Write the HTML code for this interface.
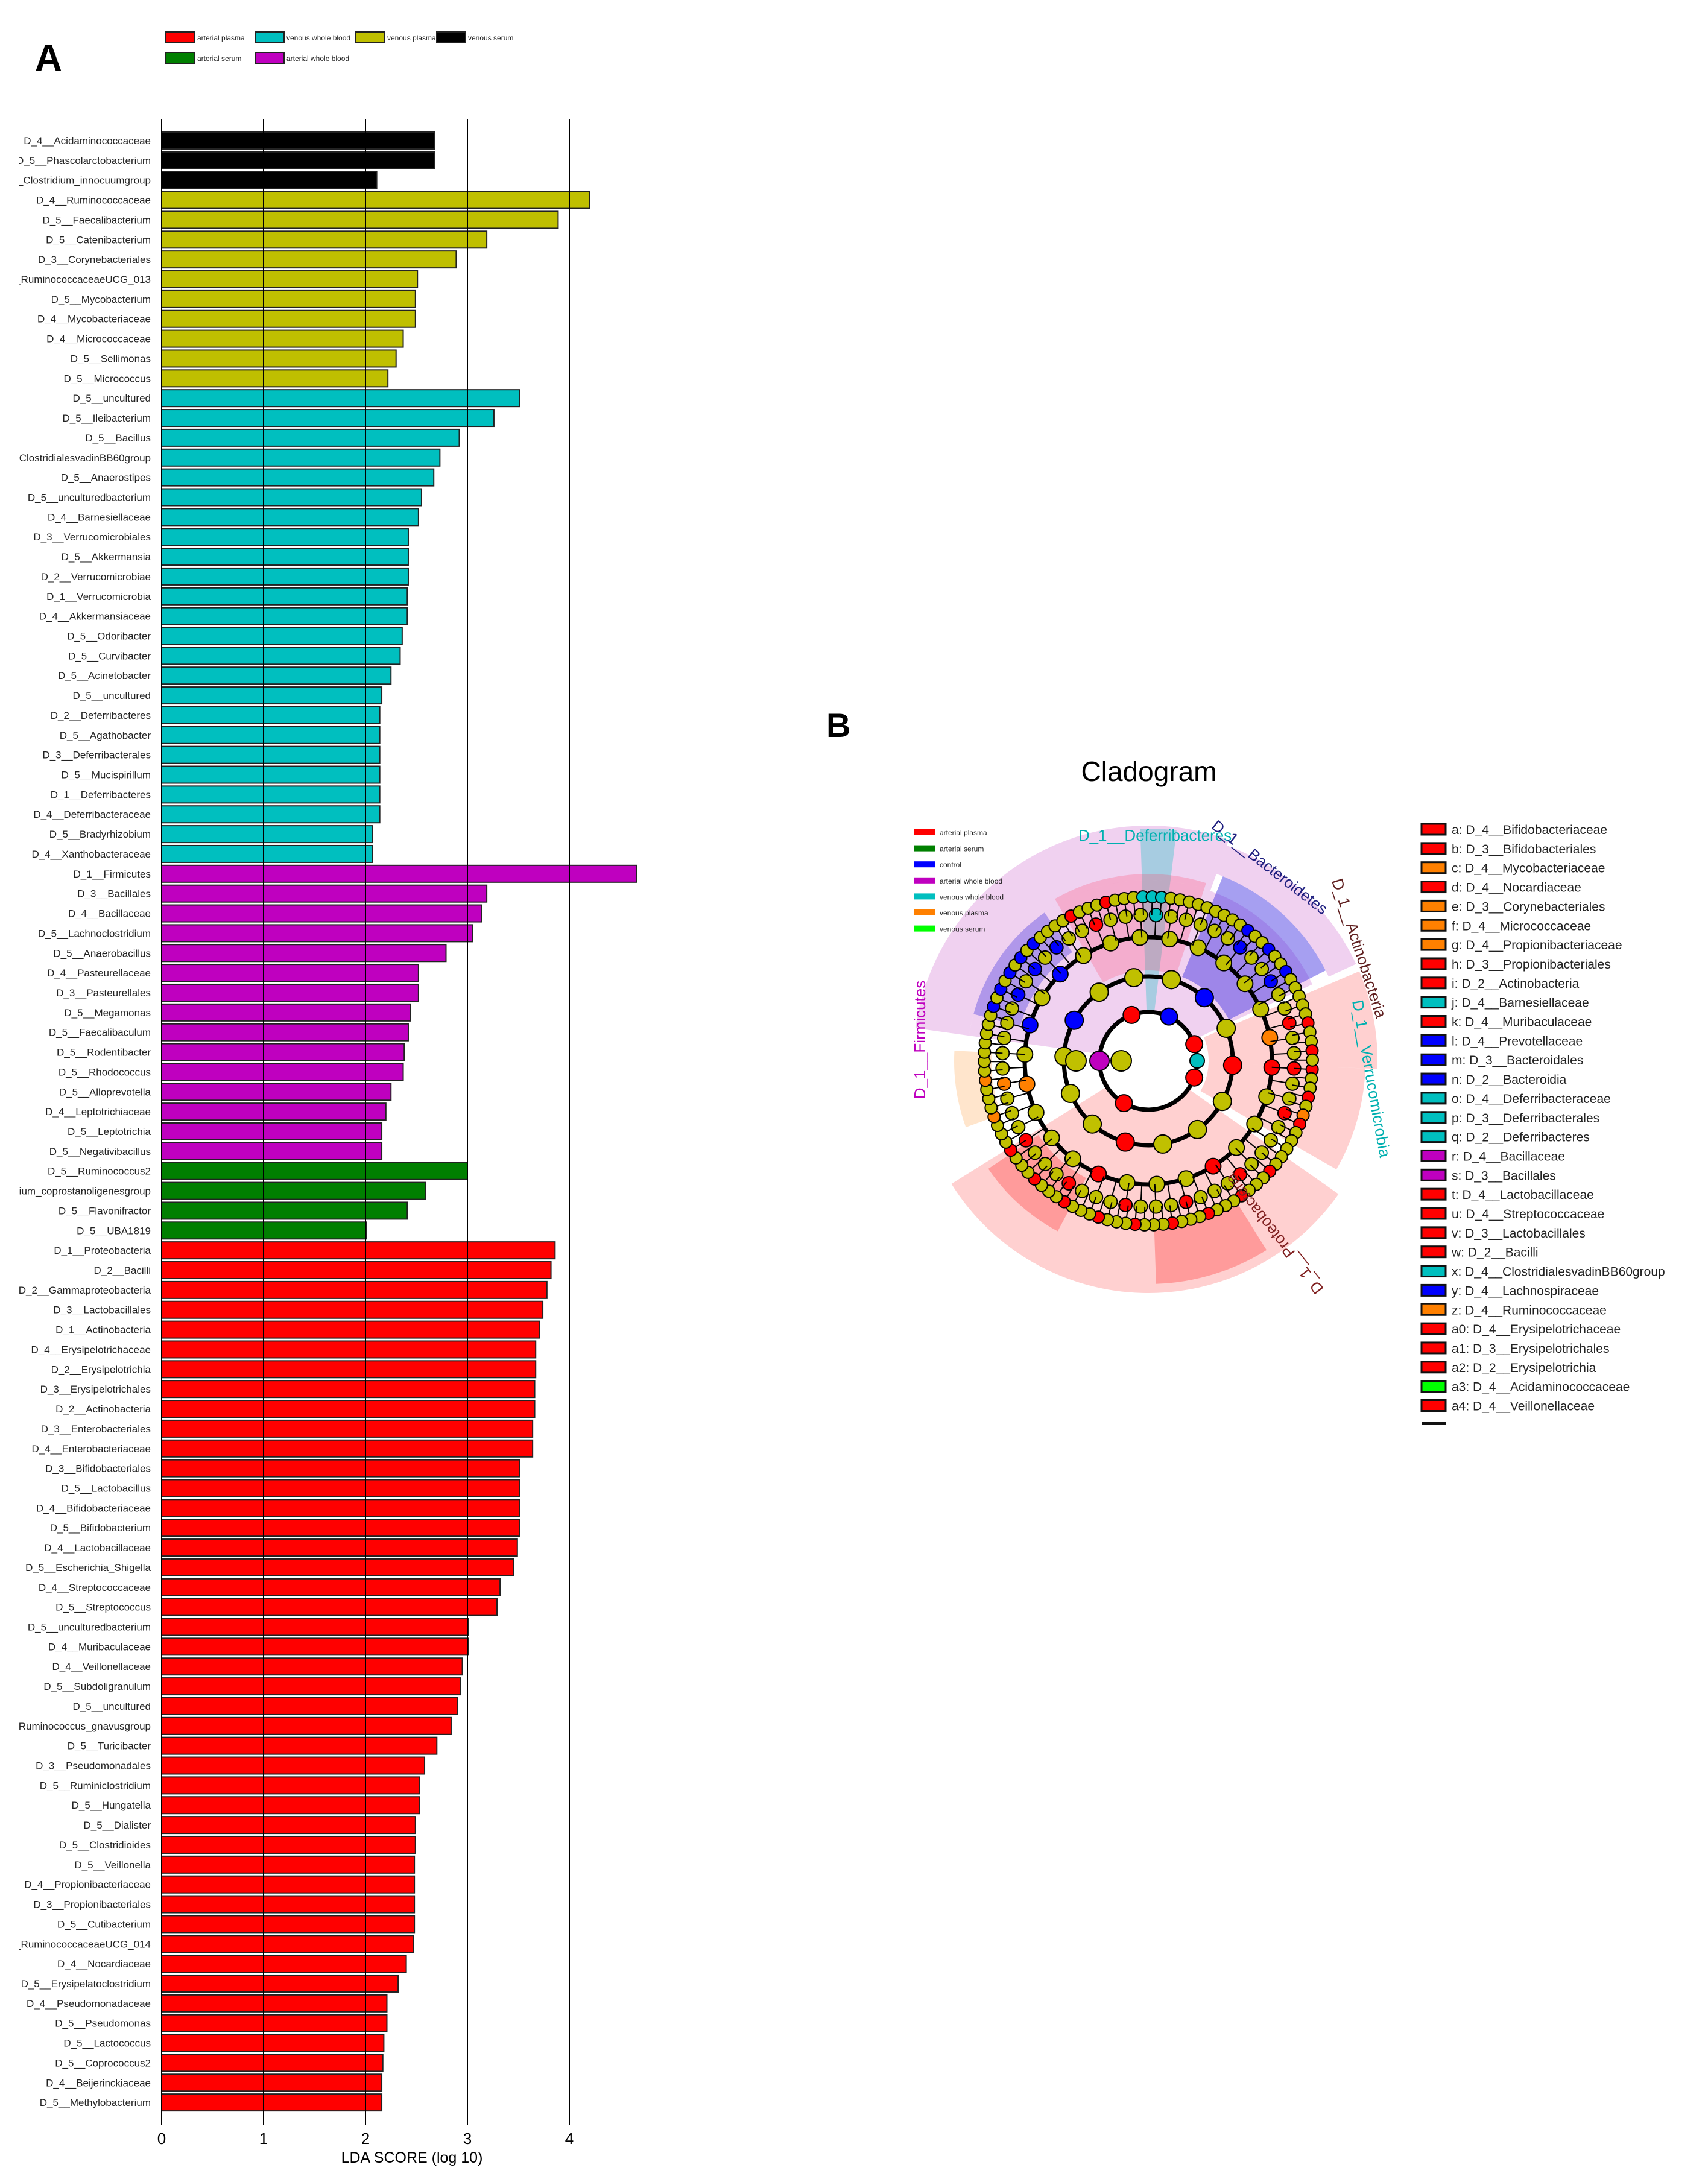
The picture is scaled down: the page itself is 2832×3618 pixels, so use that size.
<!DOCTYPE html>
<html><head><meta charset="utf-8"><style>
html,body{margin:0;padding:0;background:#fff}
svg{display:block}
text{font-family:"Liberation Sans",sans-serif}
</style></head><body>
<svg id="root" width="2832" height="3618" viewBox="0 0 2832 3618" xmlns="http://www.w3.org/2000/svg">
<text x="58" y="117" font-size="62" font-weight="bold">A</text>
<g id="legendA"></g>
<defs><clipPath id="lblclip"><rect x="32" y="0" width="240" height="3618"/></clipPath></defs>
<g id="labels" clip-path="url(#lblclip)"></g>
<g id="bars"></g>
<g id="grid"></g>
<g id="ticks"></g>
<text x="683" y="3586" font-size="25" text-anchor="middle">LDA SCORE (log 10)</text>

<text x="1370" y="1222" font-size="56" font-weight="bold">B</text>
<text x="1905" y="1295" font-size="46" text-anchor="middle">Cladogram</text>
<g id="clado"></g>
<g id="cladoLegend"></g>
<g id="taxLegend"></g>
</svg>
<script>
const NS="http://www.w3.org/2000/svg";
const categories=["D_4__Acidaminococcaceae","D_5__Phascolarctobacterium","D_5__Clostridium_innocuumgroup","D_4__Ruminococcaceae","D_5__Faecalibacterium","D_5__Catenibacterium","D_3__Corynebacteriales","D_5__RuminococcaceaeUCG_013","D_5__Mycobacterium","D_4__Mycobacteriaceae","D_4__Micrococcaceae","D_5__Sellimonas","D_5__Micrococcus","D_5__uncultured","D_5__Ileibacterium","D_5__Bacillus","D_4__ClostridialesvadinBB60group","D_5__Anaerostipes","D_5__unculturedbacterium","D_4__Barnesiellaceae","D_3__Verrucomicrobiales","D_5__Akkermansia","D_2__Verrucomicrobiae","D_1__Verrucomicrobia","D_4__Akkermansiaceae","D_5__Odoribacter","D_5__Curvibacter","D_5__Acinetobacter","D_5__uncultured","D_2__Deferribacteres","D_5__Agathobacter","D_3__Deferribacterales","D_5__Mucispirillum","D_1__Deferribacteres","D_4__Deferribacteraceae","D_5__Bradyrhizobium","D_4__Xanthobacteraceae","D_1__Firmicutes","D_3__Bacillales","D_4__Bacillaceae","D_5__Lachnoclostridium","D_5__Anaerobacillus","D_4__Pasteurellaceae","D_3__Pasteurellales","D_5__Megamonas","D_5__Faecalibaculum","D_5__Rodentibacter","D_5__Rhodococcus","D_5__Alloprevotella","D_4__Leptotrichiaceae","D_5__Leptotrichia","D_5__Negativibacillus","D_5__Ruminococcus2","D_5__Eubacterium_coprostanoligenesgroup","D_5__Flavonifractor","D_5__UBA1819","D_1__Proteobacteria","D_2__Bacilli","D_2__Gammaproteobacteria","D_3__Lactobacillales","D_1__Actinobacteria","D_4__Erysipelotrichaceae","D_2__Erysipelotrichia","D_3__Erysipelotrichales","D_2__Actinobacteria","D_3__Enterobacteriales","D_4__Enterobacteriaceae","D_3__Bifidobacteriales","D_5__Lactobacillus","D_4__Bifidobacteriaceae","D_5__Bifidobacterium","D_4__Lactobacillaceae","D_5__Escherichia_Shigella","D_4__Streptococcaceae","D_5__Streptococcus","D_5__unculturedbacterium","D_4__Muribaculaceae","D_4__Veillonellaceae","D_5__Subdoligranulum","D_5__uncultured","D_5__Ruminococcus_gnavusgroup","D_5__Turicibacter","D_3__Pseudomonadales","D_5__Ruminiclostridium","D_5__Hungatella","D_5__Dialister","D_5__Clostridioides","D_5__Veillonella","D_4__Propionibacteriaceae","D_3__Propionibacteriales","D_5__Cutibacterium","D_5__RuminococcaceaeUCG_014","D_4__Nocardiaceae","D_5__Erysipelatoclostridium","D_4__Pseudomonadaceae","D_5__Pseudomonas","D_5__Lactococcus","D_5__Coprococcus2","D_4__Beijerinckiaceae","D_5__Methylobacterium"];
const ldaValues=[2.68,2.68,2.11,4.2,3.89,3.19,2.89,2.51,2.49,2.49,2.37,2.3,2.22,3.51,3.26,2.92,2.73,2.67,2.55,2.52,2.42,2.42,2.42,2.41,2.41,2.36,2.34,2.25,2.16,2.14,2.14,2.14,2.14,2.14,2.14,2.07,2.07,4.66,3.19,3.14,3.05,2.79,2.52,2.52,2.44,2.42,2.38,2.37,2.25,2.2,2.16,2.16,3.0,2.59,2.41,2.01,3.86,3.82,3.78,3.74,3.71,3.67,3.67,3.66,3.66,3.64,3.64,3.51,3.51,3.51,3.51,3.49,3.45,3.32,3.29,3.01,3.01,2.95,2.93,2.9,2.84,2.7,2.58,2.53,2.53,2.49,2.49,2.48,2.48,2.48,2.48,2.47,2.4,2.32,2.21,2.21,2.18,2.17,2.16,2.16];
const groups=["venous serum","venous serum","venous serum"].concat(Array(10).fill("venous plasma"),Array(24).fill("venous whole blood"),Array(15).fill("arterial whole blood"),Array(4).fill("arterial serum"),Array(44).fill("arterial plasma"));
const groupNames=["arterial plasma","venous whole blood","venous plasma","venous serum","arterial serum","arterial whole blood"];
const groupColors=["#ff0000","#00bfbf","#bfbf00","#000000","#007f00","#bf00bf"];
const xTicks=[0,1,2,3,4];

const X0=268,XU=169,Y0=233,DY=32.86,BH=28;
const xs=v=>X0+XU*v, ys=i=>Y0+DY*i;
function mk(tag,attrs,parent){const e=document.createElementNS(NS,tag);for(const k in attrs)e.setAttribute(k,attrs[k]);parent.appendChild(e);return e;}
const gBars=document.getElementById('bars'),gLab=document.getElementById('labels'),gGrid=document.getElementById('grid'),gTicks=document.getElementById('ticks'),gLeg=document.getElementById('legendA');
categories.forEach((c,i)=>{
  const col=groupColors[groupNames.indexOf(groups[i])];
  const r=mk('rect',{x:xs(0),y:ys(i)-BH/2,width:xs(ldaValues[i])-xs(0),height:BH,fill:col,stroke:'#222','stroke-width':2},gBars);
  
  
  const t=mk('text',{x:250,y:ys(i)+6,'font-size':17,'text-anchor':'end',fill:'#222'},gLab);
  t.textContent=c;
  
  
});
xTicks.forEach(v=>{
  const l=mk('line',{x1:xs(v),x2:xs(v),y1:198,y2:3523,stroke:'#000','stroke-width':2},gGrid);
  
  
  const t=mk('text',{x:xs(v),y:3555,'font-size':26,'text-anchor':'middle'},gTicks);
  t.textContent=v;
  
  
});
const legPos=[[275,62],[423,62],[590,62],[724,62],[275,96],[423,96]];
groupNames.forEach((n,i)=>{
  const [x,y]=legPos[i];
  const r=mk('rect',{x:x,y:y-9,width:48,height:18,fill:groupColors[i],stroke:'#222','stroke-width':2},gLeg);
  
  
  const t=mk('text',{x:x+52,y:y+5,'font-size':12,fill:'#222'},gLeg);
  t.textContent=n;
  
  
});

/* cladogram */
const CX=1904,CY=1759,cl=document.getElementById('clado');
const R=d=>d*Math.PI/180;
function sector(a0,a1,r0,r1,fill,op){
  const p=(a,r)=>[CX+r*Math.cos(R(a)),CY+r*Math.sin(R(a))];
  const large=(a1-a0)>180?1:0;
  const [x1,y1]=p(a0,r1),[x2,y2]=p(a1,r1),[x3,y3]=p(a1,r0),[x4,y4]=p(a0,r0);
  const e=mk('path',{d:`M${x1},${y1}A${r1},${r1} 0 ${large} 1 ${x2},${y2}L${x3},${y3}A${r0},${r0} 0 ${large} 0 ${x4},${y4}Z`,fill:fill,'fill-opacity':op},cl);
  
  
}
sector(188,290,300,390,'#cc66cc',0.3);
sector(188,335,81,300,'#cc66cc',0.3);
sector(268,277,81,385,'#00bfbf',0.3);
sector(292,333,150,330,'#3a2be0',0.45);
sector(290,335,330,380,'#cc66cc',0.3);
sector(195,235,220,300,'#3a2be0',0.35);
sector(240,288,150,310,'#ff4466',0.25);
sector(337,362,100,380,'#ff4444',0.25);
sector(2,30,100,360,'#ff4444',0.25);
sector(35,148,81,385,'#ff4444',0.25);
sector(58,88,270,370,'#ff2222',0.3);
sector(118,146,220,320,'#ff2222',0.3);
sector(160,183,260,322,'#ff9933',0.25);
[81,140,205].forEach(r=>mk('circle',{cx:CX,cy:CY,r:r,fill:'none',stroke:'#000','stroke-width':7},cl));
function colAt(a,i){
  a=((a%360)+360)%360;
  if(a>195&&a<232&&i%2===0) return '#0000ff';
  if(a>298&&a<330&&i%3===0) return '#0000ff';
  if(a>268&&a<277) return '#00c0c0';
  if(a>340||a<28){return i%3===0?'#ff0000':(i%5===0?'#ff8000':'#c0c000');}
  if(a>=0&&a<10&&i%2) return '#00c0c0';
  if(a>35&&a<150&&i%4===0) return '#ff0000';
  if(a>240&&a<265&&i%4===1) return '#ff0000';
  if(a>160&&a<183&&i%4===0) return '#ff8000';
  return '#c0c000';
}
const rings=[[140,14,15],[205,26,13],[242,60,11],[272,110,10]];
rings.forEach(([r,n,s],k)=>{
  for(let i=0;i<n;i++){
    const a=i*360/n+3;
    const x=CX+r*Math.cos(R(a)),y=CY+r*Math.sin(R(a));
    if(k>=2){const rr=k===2?205:242;mk('line',{x1:CX+rr*Math.cos(R(a)),y1:CY+rr*Math.sin(R(a)),x2:x,y2:y,stroke:'#000','stroke-width':2},cl);}
    const c=mk('circle',{cx:x,cy:y,r:s,fill:colAt(a,i),stroke:'#000','stroke-width':2},cl);
    
    
  }
});
[[180,81,'#bf00bf',16],[250,81,'#ff0000',14],[340,81,'#ff0000',14],[0,81,'#00c0c0',12],[20,81,'#ff0000',14],[120,81,'#ff0000',14],[295,81,'#0000ff',14]].forEach(([a,r,c,s])=>{
  mk('circle',{cx:CX+r*Math.cos(R(a)),cy:CY+r*Math.sin(R(a)),r:s,fill:c,stroke:'#000','stroke-width':2},cl);
});
mk('circle',{cx:CX-120,cy:CY,r:17,fill:'#c0c000',stroke:'#000','stroke-width':2},cl);
mk('circle',{cx:CX-45,cy:CY,r:17,fill:'#c0c000',stroke:'#000','stroke-width':2},cl);
function ltxt(s,x,y,rot,col){const t=mk('text',{x:x,y:y,'font-size':26,fill:col,'text-anchor':'middle',transform:`rotate(${rot} ${x} ${y})`},cl);t.textContent=s;}
ltxt('D_1__Firmicutes',1534,1724,-90,'#bf00bf');
ltxt('D_1__Deferribacteres',1915,1394,0,'#00b0b0');
ltxt('D_1__Bacteroidetes',2100,1445,38,'#202080');
ltxt('D_1__Actinobacteria',2245,1575,72,'#602020');
ltxt('D_1__Verrucomicrobia',2265,1790,80,'#00b0b0');
ltxt('D_1__Proteobacteria',2120,2040,-128,'#802020');

const clNames=["arterial plasma","arterial serum","control","arterial whole blood","venous whole blood","venous plasma","venous serum"];
const clCols=["#ff0000","#008000","#0000ff","#bf00bf","#00bfbf","#ff8000","#00ff00"];
const cg=document.getElementById('cladoLegend');
clNames.forEach((n,i)=>{
  const y=1380+i*26.6;
  mk('rect',{x:1516,y:y-5,width:34,height:10,fill:clCols[i]},cg);
  const t=mk('text',{x:1558,y:y+5,'font-size':12,fill:'#222'},cg);
  t.textContent=n;
  
  
});
const taxa=["a: D_4__Bifidobacteriaceae","b: D_3__Bifidobacteriales","c: D_4__Mycobacteriaceae","d: D_4__Nocardiaceae","e: D_3__Corynebacteriales","f: D_4__Micrococcaceae","g: D_4__Propionibacteriaceae","h: D_3__Propionibacteriales","i: D_2__Actinobacteria","j: D_4__Barnesiellaceae","k: D_4__Muribaculaceae","l: D_4__Prevotellaceae","m: D_3__Bacteroidales","n: D_2__Bacteroidia","o: D_4__Deferribacteraceae","p: D_3__Deferribacterales","q: D_2__Deferribacteres","r: D_4__Bacillaceae","s: D_3__Bacillales","t: D_4__Lactobacillaceae","u: D_4__Streptococcaceae","v: D_3__Lactobacillales","w: D_2__Bacilli","x: D_4__ClostridialesvadinBB60group","y: D_4__Lachnospiraceae","z: D_4__Ruminococcaceae","a0: D_4__Erysipelotrichaceae","a1: D_3__Erysipelotrichales","a2: D_2__Erysipelotrichia","a3: D_4__Acidaminococcaceae","a4: D_4__Veillonellaceae"];
const taxCols="rrorooorrcrbbbcccmmrrrrcborrrgr";
const cmap={r:'#ff0000',o:'#ff8000',c:'#00bfbf',b:'#0000ff',m:'#bf00bf',g:'#00ff00'};
const tg=document.getElementById('taxLegend');
taxa.forEach((n,i)=>{
  const y=1375+i*31.85;
  mk('rect',{x:2357,y:y-9,width:40,height:18,fill:cmap[taxCols[i]],stroke:'#111','stroke-width':3},tg);
  const t=mk('text',{x:2407,y:y+8,'font-size':21,fill:'#222'},tg);
  t.textContent=n;
  
  
});
mk('rect',{x:2357,y:2358,width:40,height:4,fill:'#111'},tg);
</script>
</body></html>
